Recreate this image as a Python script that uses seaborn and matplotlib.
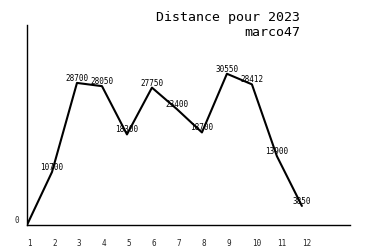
import matplotlib
matplotlib.use("Agg")
import matplotlib.pyplot as plt
import seaborn as sns
import pandas as pd

months = [1, 2, 3, 4, 5, 6, 7, 8, 9, 10, 11, 12]
distances = [0, 10700, 28700, 28050, 18300, 27750, 23400, 18700, 30550, 28412, 13900, 3850]
point_labels = ["", "10700", "28700", "28050", "18300", "27750", "23400", "18700", "30550", "28412", "13900", "3850"]
title_lines = ["Distance pour 2023", "marco47"]

sns.set_style("white")
plt.rcParams['font.family'] = ['DejaVu Sans Mono', 'DejaVu Sans']

df = pd.DataFrame({"month": months, "distance": distances})

fig = plt.figure(figsize=(3.75, 2.5), dpi=100)
ax = fig.add_axes([0.072, 0.1, 0.861, 0.8])
sns.lineplot(data=df, x="month", y="distance", color="black", linewidth=1.5, ax=ax)

for m, v, lab in zip(months, distances, point_labels):
    if lab:
        ax.text(m, v, lab, ha="center", va="bottom", fontsize=5.5, color="black")

ax.set_xlim(1, 13.92)
ax.set_ylim(0, 40400)
ax.set_xticks(months)
ax.set_xticklabels([str(m) for m in months], fontsize=5.5)
for t in ax.get_xticklabels():
    t.set_horizontalalignment("left")
ax.set_yticks([0])
ax.set_yticklabels(["0"], fontsize=5.5)
for t in ax.get_yticklabels():
    t.set_verticalalignment("bottom")
ax.tick_params(axis="x", length=0, pad=10)
ax.tick_params(axis="y", length=0, pad=6)
ax.set_xlabel("")
ax.set_ylabel("")
for s in ["top", "right"]:
    ax.spines[s].set_visible(False)
for s in ["left", "bottom"]:
    ax.spines[s].set_color("black")
    ax.spines[s].set_linewidth(1.0)

fig.text(300 / 375, 1 - 18 / 250, title_lines[0], ha="right", va="center", fontsize=9.5, color="black")
fig.text(300 / 375, 1 - 33 / 250, title_lines[1], ha="right", va="center", fontsize=9.5, color="black")

fig.savefig("out.png", dpi=100, facecolor="white")
